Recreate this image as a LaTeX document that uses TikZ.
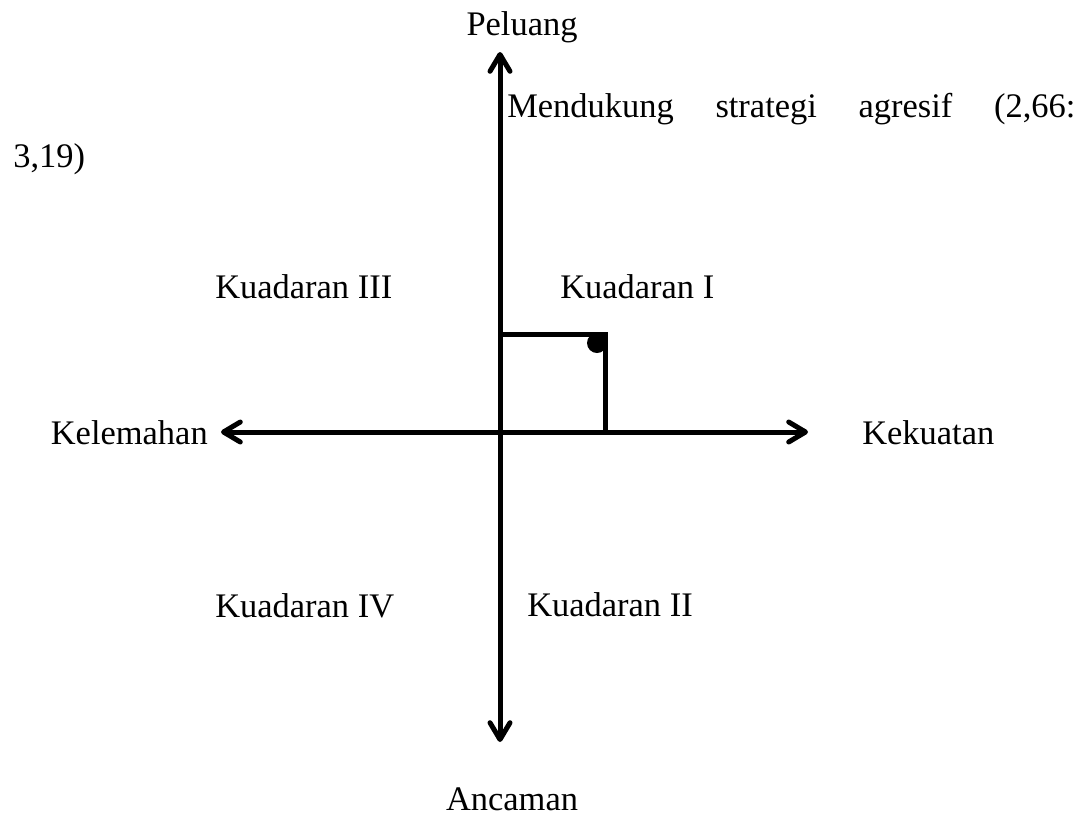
\documentclass[tikz,border=0pt]{standalone}
\usepackage{fontspec}
\setmainfont{Liberation Serif}
\usetikzlibrary{arrows.meta}
\tikzset{
  axis/.style={line width=0.125cm, line cap=round,
    -{Straight Barb[length=0.42cm, width=0.5cm, line width=0.125cm, round]}},
  lbl/.style={font=\fontsize{24.5}{29}\selectfont, inner sep=0pt},
  frame/.style={line width=0.125cm}
}
\begin{document}
\begin{tikzpicture}[x=0.025cm,y=-0.025cm]
\useasboundingbox (0,0) rectangle (1078,816);
\coordinate (O) at (500,432);
\coordinate (top) at (500,52);
\coordinate (bot) at (500,742);
\coordinate (lft) at (221,432);
\coordinate (rgt) at (808,432);
\coordinate (c1) at (500,334);
\coordinate (c2) at (605,334);
\coordinate (c3) at (605,432);
\draw[axis] (O) -- (top);
\draw[axis] (O) -- (bot);
\draw[axis] (O) -- (lft);
\draw[axis] (O) -- (rgt);
\draw[frame] (c1) -- (c2) -- (c3);
\fill (597,343) circle (0.25cm);
\node[lbl, anchor=base] (peluang) at (522,35) {Peluang};
\node[lbl, anchor=base] (ancaman) at (512,810) {Ancaman};
\node[lbl, anchor=base east] (kel) at (208,444) {Kelemahan};
\node[lbl, anchor=base west] (kek) at (862,444) {Kekuatan};
\node[lbl, anchor=base west] (q3) at (215,298) {Kuadaran III};
\node[lbl, anchor=base west] (q1) at (560,298) {Kuadaran I};
\node[lbl, anchor=base west] (q4) at (215,617) {Kuadaran IV};
\node[lbl, anchor=base west] (q2) at (527,616) {Kuadaran II};
\node[lbl, anchor=base west, text width=14.2cm, align=left] (m1) at (507,117) {Mendukung\hfill strategi\hfill agresif\hfill (2,66:};
\node[lbl, anchor=base west] (m2) at (13,167) {3,19)};
\end{tikzpicture}
\end{document}
